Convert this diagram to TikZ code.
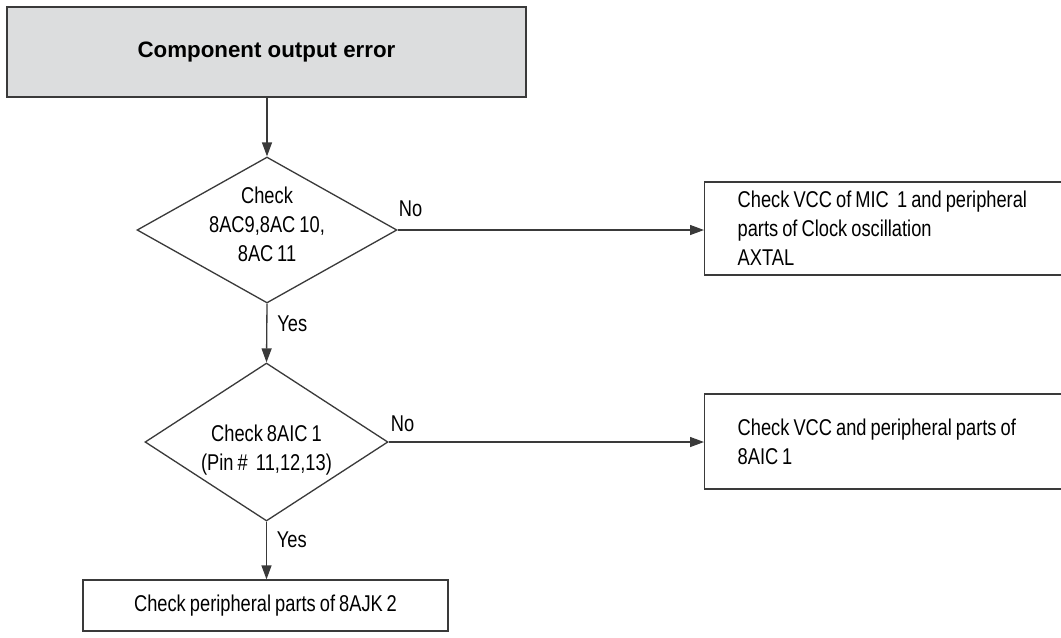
\documentclass[tikz,border=0pt]{standalone}
\usepackage{fontspec}
\setmainfont{Liberation Sans}[FakeStretch=0.8,WordSpace=0.8]
\newfontfamily\titlefont{Liberation Sans}
\usetikzlibrary{shapes.geometric,arrows.meta}
\definecolor{hdrgray}{HTML}{DCDDDE}
\definecolor{linegray}{HTML}{3A3A3A}
\begin{document}
\begin{tikzpicture}[x=0.02cm,y=-0.02cm,font=\fontsize{13}{16.5}\selectfont,
  line/.style={draw=linegray,line width=0.75pt},
  arr/.style={line,-{Triangle[length=0.28cm,width=0.2cm]}},
  box/.style={line,rectangle,inner sep=0pt},
  dia/.style={line,diamond,inner sep=-0.6cm,align=center},
  lbl/.style={inner sep=0pt,text depth=0pt}]
\useasboundingbox (0,0) rectangle (1061,637);
\clip (0,0) rectangle (1061,637);
% start
\node[box,fill=hdrgray,line width=1.1pt,minimum width=10.38cm,minimum height=1.8cm,
  font=\titlefont\fontsize{12.7}{15}\selectfont\bfseries] (err) at (266.5,52) {Component output error};
% checks
\node[dia,aspect=1.78,minimum width=5.2cm,minimum height=2.92cm,text depth=0.25cm] (chk1) at (267,230)
  {Check\\8AC9,8AC 10,\\8AC\,11};
\node[dia,aspect=1.54,minimum width=4.86cm,minimum height=3.16cm] (chk2) at (266.5,442)
  {\rule{0pt}{0.64cm}Check 8AIC 1\\(Pin \#\ \ 11,12,13)};
% results
\node[box,anchor=west,minimum width=7.4cm,minimum height=1.86cm,text width=6.6cm,
  align=flush left,inner xsep=0.66cm] (vcc1) at (704,228.5)
  {Check VCC of MIC\ \ 1 and peripheral\\parts of Clock oscillation\\AXTAL};
\node[box,anchor=west,minimum width=7.4cm,minimum height=1.9cm,text width=6.6cm,
  align=flush left,inner xsep=0.66cm] (vcc2) at (704,441.5)
  {Check VCC and peripheral parts of\\8AIC\,1};
\node[box,minimum width=7.3cm,minimum height=1.02cm] (jk2) at (265.5,605.5)
  {Check peripheral parts of 8AJK\,2};
% connectors
\draw[arr] (err.south -| chk1.north) -- (chk1.north);
\draw[arr] (chk1.east) -- (vcc1.west |- chk1.east);
\draw[arr] (chk1.south) -- (chk2.north);
\draw[arr] (chk2.east) -- (vcc2.west |- chk2.east);
\draw[arr] (chk2.south) -- (jk2.north -| chk2.south);
% branch labels
\node[lbl,anchor=south west] (no1) at ([xshift=0.02cm,yshift=0.26cm]chk1.east) {No};
\node[lbl,anchor=south west] (no2) at ([xshift=0.04cm,yshift=0.2cm]chk2.east) {No};
\node[lbl,anchor=west] (yes1) at ([xshift=0.2cm,yshift=-0.4cm]chk1.south) {Yes};
\node[lbl,anchor=west] (yes2) at ([xshift=0.2cm,yshift=-0.36cm]chk2.south) {Yes};
\end{tikzpicture}
\end{document}
